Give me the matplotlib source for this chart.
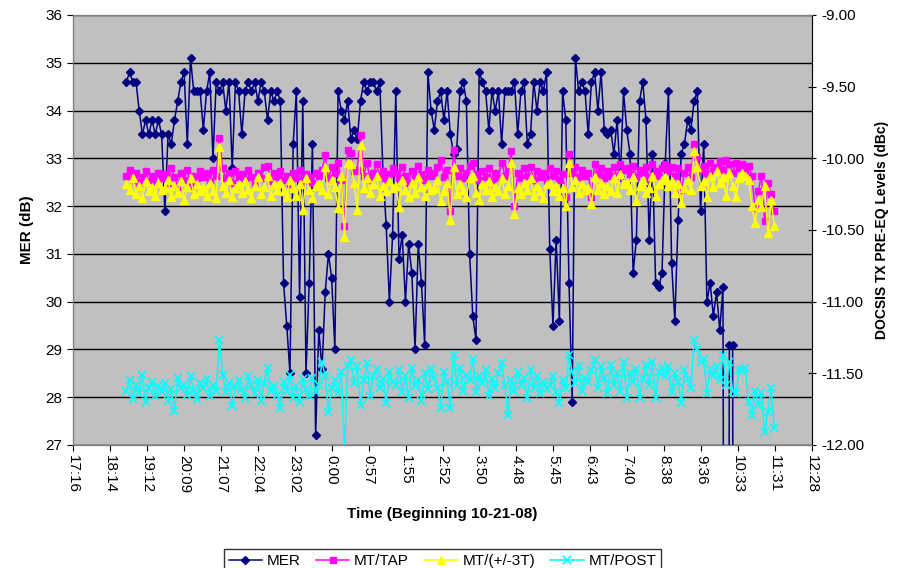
import numpy as np
import matplotlib
matplotlib.use('Agg')
import matplotlib.pyplot as plt

plt.rcParams['font.family'] = ['Liberation Sans', 'DejaVu Sans']

# sampling grid: one reading every 5 minutes starting 18:40 (Excel day fraction)
t_inicio = 18 / 24 + 40 / 1440
t_paso = 5 / 1440
n_puntos = 203

# MER (dB), left axis
mer = [
    34.6, 34.8, 34.6, 34.6, 34.0, 33.5, 33.8, 33.5, 33.8, 33.5, 33.8, 33.5,
    31.9, 33.5, 33.3, 33.8, 34.2, 34.6, 34.8, 33.3, 35.1, 34.4, 34.4, 34.4,
    33.6, 34.4, 34.8, 33.0, 34.6, 34.4, 34.6, 34.0, 34.6, 32.8, 34.6, 34.4,
    33.5, 34.4, 34.6, 34.4, 34.6, 34.2, 34.6, 34.4, 33.8, 34.4, 34.2, 34.4,
    34.2, 30.4, 29.5, 28.5, 33.3, 34.4, 30.1, 34.2, 28.5, 30.4, 33.3, 27.2,
    29.4, 28.6, 30.2, 31.0, 30.5, 29.0, 34.4, 34.0, 33.8, 34.2, 33.4, 33.6,
    33.4, 34.2, 34.6, 34.4, 34.6, 34.6, 34.4, 34.6, 32.7, 31.6, 30.0, 31.4,
    34.4, 30.9, 31.4, 30.0, 31.2, 30.6, 29.0, 31.2, 30.4, 29.1, 34.8, 34.0,
    33.6, 34.2, 34.4, 33.8, 34.4, 33.5, 33.1, 33.2, 34.4, 34.6, 34.2, 31.0,
    29.7, 29.2, 34.8, 34.6, 34.4, 33.6, 34.4, 34.0, 34.4, 33.3, 34.4, 34.4,
    34.4, 34.6, 33.5, 34.4, 34.6, 33.3, 33.5, 34.6, 34.0, 34.6, 34.4, 34.8,
    31.1, 29.5, 31.3, 29.6, 34.4, 33.8, 30.4, 27.9, 35.1, 34.4, 34.6, 34.4,
    33.5, 34.6, 34.8, 34.0, 34.8, 33.6, 33.5, 33.6, 33.1, 33.8, 32.6, 34.4,
    33.6, 33.1, 30.6, 31.3, 34.2, 34.6, 33.8, 31.3, 33.1, 30.4, 30.3, 30.6,
    32.9, 34.4, 30.8, 29.6, 31.7, 33.1, 33.3, 33.8, 33.6, 34.2, 34.4, 31.9,
    33.3, 30.0, 30.4, 29.7, 30.2, 29.4, 30.3, 0.0, 29.1, 29.1, 0.0, np.nan,
    np.nan, np.nan, np.nan, np.nan, np.nan, np.nan, np.nan, np.nan, np.nan, np.nan, np.nan,
]

# pre-EQ levels (dBc), right axis
mt_tap = [
    -10.12, -10.08, -10.15, -10.10, -10.17, -10.13, -10.09, -10.16, -10.12, -10.18, -10.10, -10.14,
    -10.11, -10.17, -10.07, -10.13, -10.20, -10.10, -10.15, -10.08, -10.19, -10.12, -10.14, -10.09,
    -10.13, -10.10, -10.16, -10.08, -10.12, -9.86, -10.07, -10.14, -10.10, -10.17, -10.09, -10.13,
    -10.11, -10.15, -10.08, -10.13, -10.18, -10.10, -10.14, -10.06, -10.05, -10.16, -10.10, -10.13,
    -10.09, -10.15, -10.12, -10.18, -10.10, -10.14, -10.08, -10.16, -10.11, -10.13, -10.17, -10.10,
    -10.12, -10.08, -9.98, -10.14, -10.06, -10.10, -10.03, -10.15, -10.47, -9.94, -9.96, -10.09,
    -10.08, -9.84, -10.12, -10.03, -10.15, -10.10, -10.04, -10.13, -10.09, -10.16, -10.11, -10.07,
    -10.10, -10.14, -10.06, -10.12, -10.17, -10.09, -10.13, -10.05, -10.11, -10.15, -10.08, -10.12,
    -10.10, -10.06, -10.01, -10.13, -10.08, -10.37, -9.94, -10.12, -10.07, -10.14, -10.10, -10.05,
    -10.03, -10.11, -10.15, -10.09, -10.13, -10.07, -10.16, -10.10, -10.14, -10.03, -10.12, -10.08,
    -9.95, -10.33, -10.10, -10.14, -10.07, -10.12, -10.06, -10.15, -10.09, -10.13, -10.10, -10.16,
    -10.07, -10.12, -10.09, -10.15, -10.11, -10.27, -9.97, -10.10, -10.06, -10.13, -10.08, -10.12,
    -10.10, -10.27, -10.04, -10.11, -10.07, -10.14, -10.09, -10.12, -10.06, -10.13, -10.04, -10.08,
    -10.07, -10.11, -10.05, -10.13, -10.08, -10.10, -10.06, -10.14, -10.04, -10.09, -10.12, -10.07,
    -10.04, -10.09, -10.06, -10.12, -10.07, -10.22, -10.10, -10.06, -10.13, -9.90, -9.99, -10.08,
    -10.05, -10.11, -10.03, -10.09, -10.06, -10.02, -10.08, -10.01, -10.04, -10.10, -10.03, -10.07,
    -10.04, -10.08, -10.05, -10.12, -10.35, -10.23, -10.12, -10.44, -10.17, -10.25, -10.37,
]

mt_3t = [
    -10.18, -10.22, -10.14, -10.25, -10.19, -10.28, -10.16, -10.23, -10.20, -10.26, -10.17, -10.22,
    -10.21, -10.15, -10.27, -10.19, -10.24, -10.16, -10.29, -10.20, -10.14, -10.25, -10.18, -10.23,
    -10.20, -10.26, -10.17, -10.23, -10.28, -9.92, -10.19, -10.24, -10.15, -10.27, -10.21, -10.18,
    -10.24, -10.16, -10.22, -10.28, -10.19, -10.13, -10.25, -10.20, -10.12, -10.26, -10.18, -10.22,
    -10.17, -10.23, -10.27, -10.15, -10.21, -10.26, -10.18, -10.36, -10.14, -10.22, -10.28, -10.19,
    -10.18, -10.22, -10.06, -10.25, -10.15, -10.20, -10.35, -10.12, -10.55, -10.03, -10.04, -10.17,
    -10.36, -9.91, -10.21, -10.14, -10.24, -10.18, -10.12, -10.26, -10.19, -10.23, -10.16, -10.21,
    -10.19, -10.34, -10.15, -10.22, -10.27, -10.17, -10.24, -10.13, -10.20, -10.26, -10.18, -10.22,
    -10.21, -10.15, -10.30, -10.23, -10.17, -10.43, -10.06, -10.25, -10.18, -10.22, -10.27, -10.14,
    -10.12, -10.24, -10.29, -10.18, -10.22, -10.16, -10.27, -10.20, -10.23, -10.14, -10.25, -10.19,
    -10.03, -10.39, -10.21, -10.25, -10.17, -10.22, -10.14, -10.26, -10.19, -10.23, -10.28, -10.18,
    -10.17, -10.23, -10.19, -10.26, -10.21, -10.33, -10.03, -10.20, -10.15, -10.24, -10.18, -10.22,
    -10.21, -10.32, -10.13, -10.22, -10.17, -10.25, -10.19, -10.23, -10.14, -10.24, -10.11, -10.18,
    -10.17, -10.22, -10.13, -10.30, -10.19, -10.15, -10.24, -10.21, -10.12, -10.26, -10.18, -10.15,
    -10.13, -10.19, -10.16, -10.24, -10.18, -10.31, -10.21, -10.15, -10.22, -9.95, -10.06, -10.19,
    -10.16, -10.27, -10.12, -10.20, -10.09, -10.17, -10.13, -10.26, -10.10, -10.19, -10.27, -10.14,
    -10.10, -10.12, -10.15, -10.33, -10.45, -10.29, -10.34, -10.19, -10.52, -10.29, -10.47,
]

mt_post = [
    -11.62, -11.55, -11.68, -11.58, -11.64, -11.51, -11.70, -11.60, -11.56, -11.66, -11.59, -11.63,
    -11.57, -11.69, -11.61, -11.76, -11.53, -11.60, -11.58, -11.65, -11.52, -11.62, -11.68, -11.57,
    -11.60, -11.54, -11.66, -11.58, -11.62, -11.27, -11.51, -11.63, -11.57, -11.73, -11.59, -11.55,
    -11.61, -11.67, -11.52, -11.58, -11.64, -11.55, -11.69, -11.57, -11.46, -11.62, -11.59, -11.65,
    -11.74, -11.56, -11.62, -11.51, -11.67, -11.59, -11.70, -11.54, -11.61, -11.66, -11.53, -11.63,
    -11.58, -11.42, -11.52, -11.77, -11.60, -11.55, -11.64, -11.49, -12.05, -11.45, -11.41, -11.57,
    -11.45, -11.72, -11.55, -11.43, -11.66, -11.52, -11.47, -11.60, -11.54, -11.71, -11.49, -11.56,
    -11.58, -11.48, -11.63, -11.52, -11.67, -11.46, -11.59, -11.55, -11.69, -11.50, -11.61, -11.47,
    -11.53, -11.60, -11.74, -11.49, -11.56, -11.74, -11.37, -11.58, -11.46, -11.62, -11.51, -11.55,
    -11.40, -11.63, -11.52, -11.57, -11.48, -11.66, -11.54, -11.60, -11.50, -11.43, -11.58, -11.79,
    -11.55, -11.62, -11.49, -11.58, -11.53, -11.67, -11.48, -11.60, -11.52, -11.64, -11.56, -11.61,
    -11.58, -11.52, -11.63, -11.71, -11.55, -11.60, -11.37, -11.49, -11.57, -11.45, -11.62, -11.53,
    -11.56, -11.48, -11.41, -11.60, -11.45, -11.53, -11.64, -11.44, -11.58, -11.50, -11.62, -11.42,
    -11.67, -11.50, -11.56, -11.47, -11.67, -11.53, -11.44, -11.58, -11.42, -11.67, -11.49, -11.46,
    -11.52, -11.45, -11.63, -11.50, -11.56, -11.71, -11.48, -11.54, -11.60, -11.27, -11.33, -11.42,
    -11.40, -11.64, -11.47, -11.52, -11.45, -11.55, -11.37, -11.58, -11.42, -11.62, -11.64, -11.48,
    -11.48, -11.46, -11.70, -11.79, -11.62, -11.72, -11.64, -11.91, -11.77, -11.60, -11.88,
]

etiquetas_x = ['17:16', '18:14', '19:12', '20:09', '21:07', '22:04', '23:02', '0:00',
               '0:57', '1:55', '2:52', '3:50', '4:48', '5:45', '6:43', '7:40',
               '8:38', '9:36', '10:33', '11:31', '12:28']
x_min, x_paso_tick = 0.72, 0.04

tiempo = t_inicio + t_paso * np.arange(n_puntos)

fig = plt.figure(figsize=(9.05, 5.68), dpi=100)
ax = fig.add_axes([73 / 905, 1 - 445 / 568, (812 - 73) / 905, 430 / 568])
ax.set_facecolor('#C0C0C0')
ax2 = ax.twinx()

ax.set_ylim(27, 36)
ax.set_yticks(range(27, 37))
ax.yaxis.grid(True, color='black', linewidth=1)
ax.set_axisbelow(True)

l_mer, = ax.plot(tiempo, mer, color='#000080', marker='D', markersize=4.5,
                 linewidth=1.1, label='MER')
l_tap, = ax2.plot(tiempo, mt_tap, color='#FF00FF', marker='s', markersize=4.5,
                  linewidth=1.1, label='MT/TAP')
l_3t, = ax2.plot(tiempo, mt_3t, color='#FFFF00', marker='^', markersize=5.5,
                 linewidth=1.1, label='MT/(+/-3T)')
l_post, = ax2.plot(tiempo, mt_post, color='#00FFFF', marker='x', markersize=5.5,
                   markeredgewidth=1.2, linewidth=1.1, label='MT/POST')

ax2.set_ylim(-12, -9)
ax2.set_yticks(np.arange(-12, -8.99, 0.5))
ax2.set_yticklabels([f'{v:.2f}' for v in np.arange(-12, -8.99, 0.5)])

ticks_x = x_min + x_paso_tick * np.arange(len(etiquetas_x))
ax.set_xlim(ticks_x[0], ticks_x[-1])
ax.set_xticks(ticks_x)
ax.set_xticklabels(etiquetas_x, rotation=-90)

for a in (ax, ax2):
    for s in a.spines.values():
        s.set_color('#808080')
ax2.spines['right'].set_color('black')
ax.spines['left'].set_color('black')
ax.spines['bottom'].set_color('black')

ax.tick_params(axis='both', labelsize=11, length=4, direction='out')
ax2.tick_params(axis='y', labelsize=11, length=6, direction='inout')

ax.set_ylabel('MER (dB)', fontsize=11, fontweight='bold', labelpad=8)
ax2.set_ylabel('DOCSIS TX PRE-EQ Levels (dBc)', fontsize=10, fontweight='bold', labelpad=8)
ax.set_xlabel('Time (Beginning 10-21-08)', fontsize=11, fontweight='bold', labelpad=10)

leg = ax.legend(handles=[l_mer, l_tap, l_3t, l_post], loc='upper center',
                bbox_to_anchor=(0.5, -0.225), ncol=4, fontsize=11, frameon=True,
                fancybox=False, edgecolor='black', handlelength=2.2,
                columnspacing=1.0, handletextpad=0.3, borderpad=0.3)
leg.get_frame().set_linewidth(1)

fig.savefig('out.png', dpi=100)
